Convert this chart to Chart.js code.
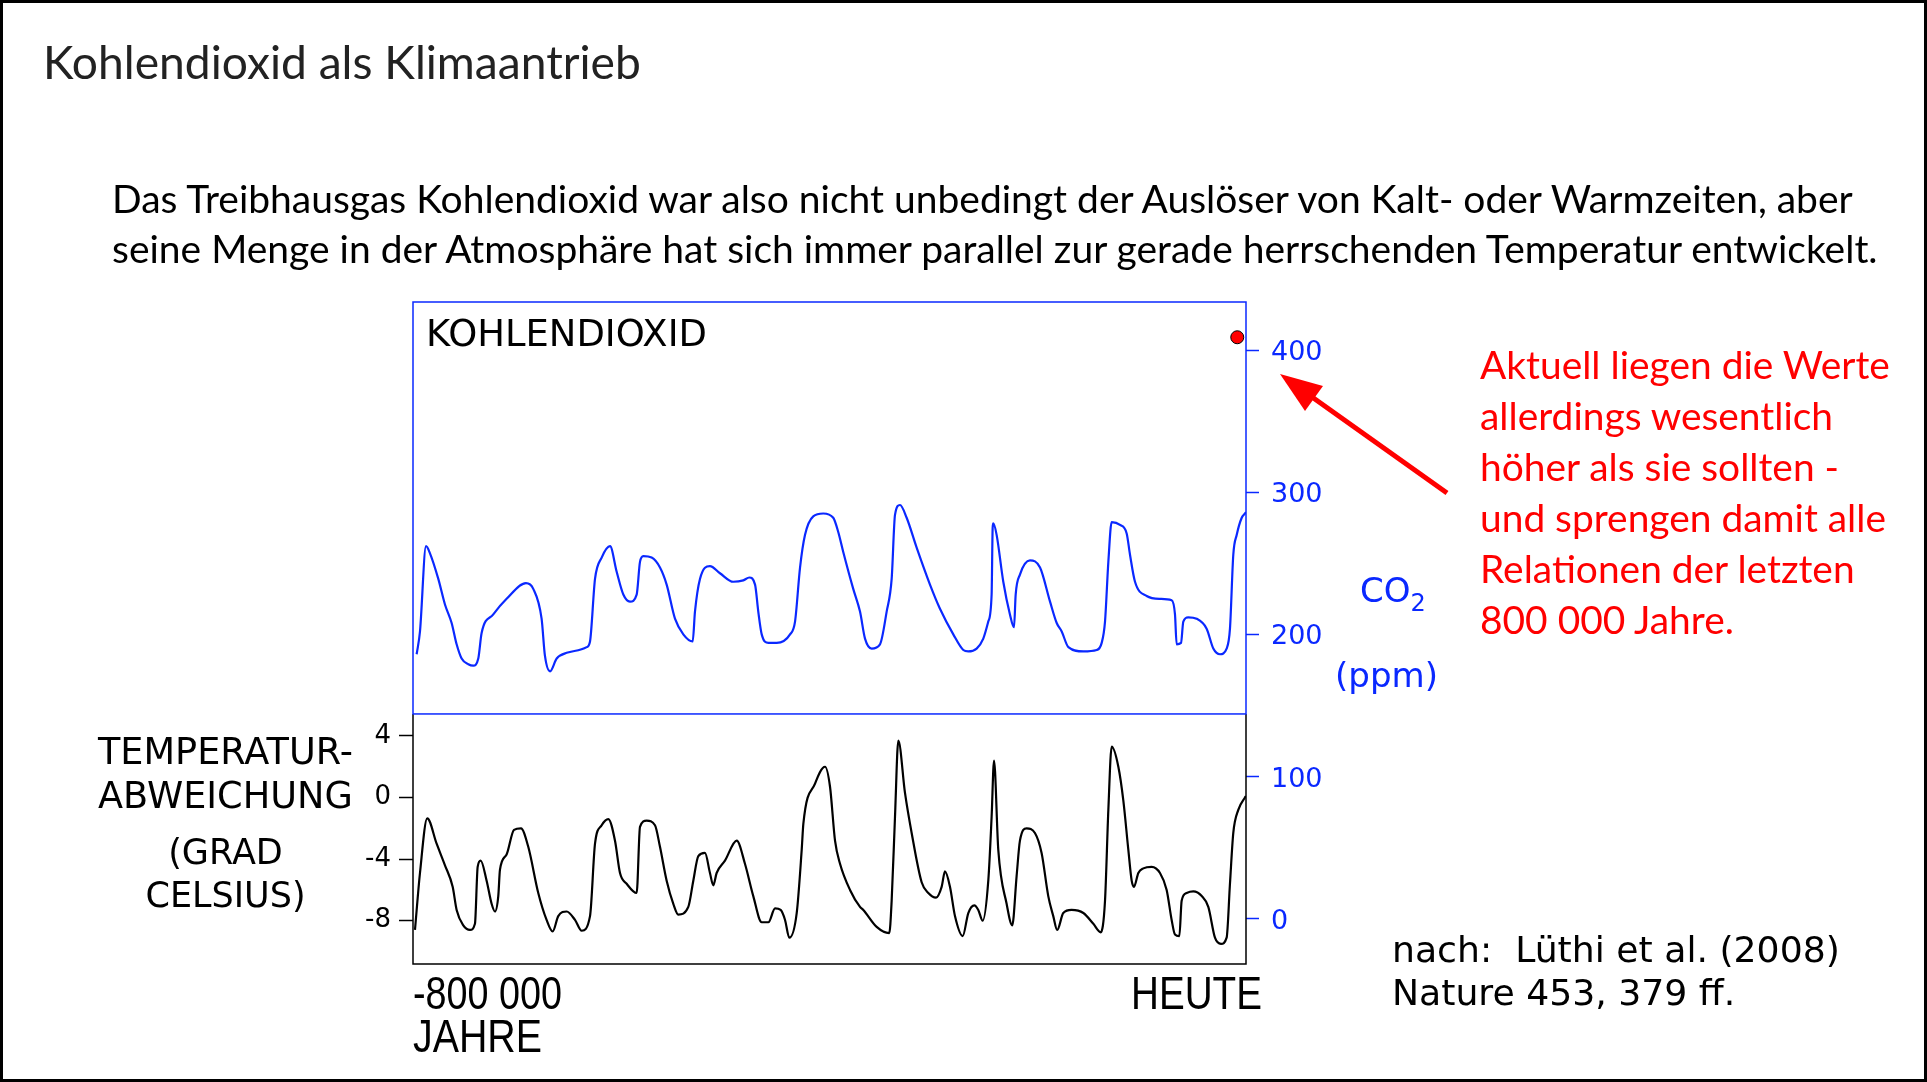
<!DOCTYPE html>
<html lang="de">
<head>
<meta charset="utf-8">
<title>Kohlendioxid als Klimaantrieb</title>
<script src="https://cdn.jsdelivr.net/npm/chart.js@4.4.1/dist/chart.umd.min.js"></script>
<style>
  html, body { margin: 0; padding: 0; background: #fff; overflow: hidden; }
  #slide { position: relative; width: 1927px; height: 1082px; background: #fff; overflow: hidden; }
  #chart { position: absolute; left: 0; top: 0; }
  .t { position: absolute; white-space: pre; }
  .calibri { font-family: Lato, "Open Sans", sans-serif; }
  .lucida { font-family: "DejaVu Sans", sans-serif; }
  .narrow { font-family: "Liberation Sans", Arial, sans-serif; transform-origin: 0 50%; }
  #frame { position: absolute; left: 0; top: 0; width: 1927px; height: 1082px; box-sizing: border-box;
           border: 3px solid #000; pointer-events: none; }
</style>
</head>
<body>
<div id="slide">
  <canvas id="chart" width="1927" height="1082"></canvas>

  <div class="t calibri" data-w="598" style="left:43px; top:36px; line-height:50px; font-size:44px; color:#222;">Kohlendioxid als Klimaantrieb</div>

  <div class="t calibri" data-w="1766" style="left:112px; top:173px; line-height:50px; font-size:35px; color:#000;">Das Treibhausgas Kohlendioxid war also nicht unbedingt der Auslöser von Kalt- oder Warmzeiten, aber
seine Menge in der Atmosphäre hat sich immer parallel zur gerade herrschenden Temperatur entwickelt.</div>

  <div class="t calibri" data-w="410" style="left:1480px; top:338.5px; line-height:51px; font-size:35px; color:#ff0000;">Aktuell liegen die Werte
allerdings wesentlich
höher als sie sollten -
und sprengen damit alle
Relationen der letzten
800 000 Jahre.</div>

  <div class="t lucida" data-w="281" style="left:426px; top:314px; line-height:40px; font-size:33px; color:#000;">KOHLENDIOXID</div>

  <div class="t lucida" data-w="255" style="left:98px; top:730px; line-height:44px; font-size:35px; color:#000; text-align:center;">TEMPERATUR-
ABWEICHUNG</div>
  <div class="t lucida" style="left:98px; top:831px; width:255px; line-height:43px; font-size:35px; color:#000; text-align:center;">(GRAD
CELSIUS)</div>

  <div class="t lucida" style="left:1360px; top:570px; line-height:40px; font-size:34px; color:#0a28ff;">CO<span style="font-size:24px; position:relative; top:9px;">2</span></div>
  <div class="t lucida" data-w="103" style="left:1335px; top:655px; line-height:40px; font-size:34px; color:#0a28ff;">(ppm)</div>

  <div class="t narrow" data-sx="149" style="left:413px; top:971px; line-height:44px; font-size:46px; color:#000;">-800 000</div>
  <div class="t narrow" data-sx="129" style="left:413px; top:1014px; line-height:44px; font-size:46px; color:#000;">JAHRE</div>
  <div class="t narrow" data-sx="131" style="left:1131px; top:971px; line-height:44px; font-size:46px; color:#000;">HEUTE</div>

  <div class="t lucida" data-w="448" style="left:1392px; top:928px; line-height:43px; font-size:36px; color:#000;">nach:  Lüthi et al. (2008)
Nature 453, 379 ff.</div>

  <svg style="position:absolute; left:0; top:0;" width="1927" height="1082">
    <line x1="1447" y1="493" x2="1312" y2="397" stroke="#ff0000" stroke-width="5"/>
    <polygon points="1280,374 1323,386 1305,411" fill="#ff0000"/>
  </svg>

  <div id="frame"></div>
</div>

<script>
// === DATEN ===
// Jahre in Tausend Jahren vor heute
const co2Years = [-796.5, -793.3, -787.5, -783.7, -775.7, -769.3, -762.9, -758.1, -753.3, -746.9, -742.1, -737.3, -734.1, -722.9, -710.1, -691.5, -684.5, -676.5, -673.3, -668.4, -662.0, -652.4, -633.2, -630.0, -625.2, -618.8, -610.8, -604.4, -598.0, -591.6, -585.2, -582.0, -578.8, -570.8, -562.8, -556.4, -548.4, -540.4, -531.4, -529.2, -524.4, -514.8, -505.2, -492.4, -482.8, -477.0, -471.5, -468.4, -465.1, -458.7, -450.7, -437.9, -433.1, -428.3, -423.5, -415.6, -406.0, -396.4, -391.6, -386.8, -377.2, -370.7, -365.9, -359.5, -351.5, -345.1, -340.3, -337.1, -332.3, -325.9, -316.3, -303.5, -293.9, -281.1, -271.5, -266.7, -258.7, -252.3, -247.5, -244.3, -243.3, -242.7, -239.5, -233.1, -226.7, -222.8, -221.2, -217.1, -207.5, -197.8, -188.2, -181.8, -177.0, -170.6, -156.2, -143.4, -138.6, -135.4, -132.2, -129.0, -121.0, -114.6, -111.4, -106.6, -95.4, -82.6, -71.4, -68.2, -66.6, -62.4, -60.2, -55.4, -47.4, -37.8, -31.4, -25.0, -18.6, -15.4, -12.2, -8.9, -4.1, -1.0, 0];
const co2Ppm = [186, 202, 262, 257, 239, 221, 208, 193, 183, 179, 178, 183, 201, 214, 225, 236, 232, 211, 185, 174, 183, 187, 191, 195, 239, 254, 262, 244, 228, 223, 228, 251, 255, 254, 247, 235, 211, 200, 195, 216, 239, 248, 243, 237, 238, 240, 235, 216, 200, 194, 194, 200, 209, 247, 270, 283, 285, 282, 272, 258, 232, 216, 197, 190, 193, 216, 239, 284, 291, 282, 261, 235, 218, 200, 189, 188, 190, 197, 209, 228, 275, 278, 270, 237, 214, 205, 228, 242, 252, 247, 223, 208, 202, 191, 188, 189, 194, 209, 251, 279, 277, 271, 256, 237, 227, 225, 224, 214, 193, 194, 209, 212, 211, 204, 190, 186, 190, 204, 256, 270, 282, 285, 286];

const tempYears = [-798.1, -793.3, -786.3, -777.3, -769.3, -761.9, -758.1, -751.7, -745.3, -740.5, -737.9, -735.0, -729.3, -724.5, -721.3, -718.1, -716.5, -710.1, -703.0, -696.3, -689.3, -679.7, -671.7, -665.9, -660.5, -652.4, -644.4, -638.0, -630.0, -625.2, -618.8, -612.4, -606.0, -601.2, -594.8, -585.2, -582.0, -575.6, -567.6, -562.8, -556.4, -550.0, -545.2, -535.6, -530.8, -526.0, -519.6, -514.8, -511.6, -508.4, -500.4, -489.1, -481.2, -473.2, -465.1, -458.7, -452.3, -446.9, -442.7, -438.6, -431.5, -426.7, -425.1, -413.9, -404.3, -399.5, -394.7, -389.9, -380.3, -370.7, -367.5, -354.7, -342.6, -340.3, -337.1, -333.9, -327.5, -321.1, -311.5, -305.1, -297.7, -292.3, -289.1, -284.3, -279.5, -272.1, -266.7, -260.9, -257.1, -252.9, -247.5, -244.3, -242.0, -237.9, -229.9, -224.5, -220.3, -217.1, -210.7, -202.7, -196.3, -189.9, -185.1, -181.3, -175.5, -167.5, -156.2, -146.6, -139.5, -135.4, -132.2, -129.0, -122.6, -117.8, -113.0, -109.8, -107.6, -103.4, -98.6, -90.6, -82.6, -76.2, -71.4, -68.2, -64.0, -61.8, -57.0, -50.6, -42.5, -36.2, -29.8, -24.0, -18.6, -15.4, -12.2, -7.4, -1.0, 0];
const tempDeg = [-8.6, -4.9, -1.35, -3.0, -4.4, -5.8, -7.3, -8.3, -8.6, -8.2, -4.5, -4.1, -5.4, -6.9, -7.4, -6.4, -4.7, -3.7, -2.1, -2.0, -3.2, -6.2, -7.95, -8.7, -7.7, -7.4, -7.95, -8.65, -7.7, -3.0, -1.8, -1.4, -2.8, -4.9, -5.6, -6.2, -1.9, -1.5, -1.8, -3.2, -5.4, -6.9, -7.6, -7.1, -5.4, -3.8, -3.6, -4.9, -5.7, -4.9, -4.1, -2.8, -4.3, -6.4, -8.1, -8.1, -7.2, -7.3, -7.95, -9.1, -7.5, -3.4, -1.7, 0.9, 2.0, 0.7, -2.8, -4.3, -6.0, -7.1, -7.3, -8.4, -8.8, -6.7, -1.25, 3.7, 0.3, -2.3, -5.5, -6.2, -6.5, -5.8, -4.8, -5.8, -7.7, -9.0, -7.5, -7.0, -7.3, -8.0, -5.4, -1.25, 2.4, -3.4, -6.9, -8.3, -5.1, -2.8, -2.0, -2.3, -3.6, -6.4, -7.7, -8.6, -7.5, -7.3, -7.5, -8.2, -8.75, -6.7, -0.8, 3.3, 2.0, -0.2, -3.4, -5.4, -5.8, -4.9, -4.6, -4.5, -4.9, -6.0, -7.95, -8.9, -9.0, -6.7, -6.2, -6.1, -6.4, -7.1, -9.1, -9.5, -9.1, -5.6, -2.3, -0.8, 0.0, 0.1];

// heutiger Messwert (roter Punkt)
const nowYears = [-8.4];
const nowPpm = [409];

// Achsen
const co2Ticks = [0, 100, 200, 300, 400];
const tempTicks = [4, 0, -4, -8];

const BLAU = "#0a28ff";
const panelSplit = 144; // ppm-Höhe der Trennlinie zwischen den Feldern

// === TEXTBREITEN ANPASSEN ===
document.querySelectorAll("[data-w]").forEach((el) => {
  const w = el.getBoundingClientRect().width;
  const size = parseFloat(getComputedStyle(el).fontSize);
  el.style.fontSize = (size * el.dataset.w / w).toFixed(2) + "px";
});
// schmale Beschriftungen: Höhe bleibt, Breite wird gestaucht
document.querySelectorAll("[data-sx]").forEach((el) => {
  const w = el.getBoundingClientRect().width;
  el.style.transform = "scaleX(" + (el.dataset.sx / w).toFixed(3) + ")";
});

// === RAHMEN ===
const rahmenPlugin = {
  id: "rahmen",
  afterDatasetsDraw(chart) {
    const { ctx, chartArea: a, scales } = chart;
    const ySplit = scales.co2.getPixelForValue(panelSplit);
    ctx.save();
    ctx.lineWidth = 1.5;
    ctx.strokeStyle = "#000";
    ctx.beginPath();
    ctx.moveTo(a.left, ySplit);
    ctx.lineTo(a.left, a.bottom);
    ctx.lineTo(a.right, a.bottom);
    ctx.lineTo(a.right, ySplit);
    ctx.stroke();
    ctx.strokeStyle = BLAU;
    ctx.strokeRect(a.left, a.top, a.right - a.left, ySplit - a.top);
    ctx.restore();
  }
};

const punkte = (xs, ys) => xs.map((x, i) => ({ x, y: ys[i] }));

new Chart(document.getElementById("chart"), {
  type: "line",
  data: {
    datasets: [
      {
        label: "CO2",
        data: punkte(co2Years, co2Ppm),
        yAxisID: "co2",
        borderColor: BLAU,
        borderWidth: 2.2,
        pointRadius: 0,
        cubicInterpolationMode: "monotone"
      },
      {
        label: "Temperatur",
        data: punkte(tempYears, tempDeg),
        yAxisID: "temp",
        borderColor: "#000",
        borderWidth: 2.2,
        pointRadius: 0,
        cubicInterpolationMode: "monotone"
      },
      {
        label: "Heute",
        data: punkte(nowYears, nowPpm),
        yAxisID: "co2",
        showLine: false,
        pointRadius: 6.5,
        pointBackgroundColor: "#ff0000",
        pointBorderColor: "#000",
        pointBorderWidth: 1
      }
    ]
  },
  options: {
    responsive: false,
    animation: false,
    devicePixelRatio: 1,
    layout: { padding: { top: 302, bottom: 118, left: 0, right: 0 } },
    plugins: { legend: { display: false }, tooltip: { enabled: false } },
    scales: {
      x: { type: "linear", min: -800, max: 0, display: false },
      temp: {
        position: "left",
        min: -10.81,
        max: 32.18,
        afterBuildTicks: (s) => { s.ticks = tempTicks.map((v) => ({ value: v })); },
        afterFit: (s) => { s.width = 413; },
        border: { display: false },
        grid: { drawOnChartArea: false, tickLength: 14, tickColor: "#000", tickWidth: 1.5 },
        ticks: { color: "#000", padding: 8, font: { family: "DejaVu Sans", size: 26 } }
      },
      co2: {
        position: "right",
        min: -31.9,
        max: 433.8,
        afterBuildTicks: (s) => { s.ticks = co2Ticks.map((v) => ({ value: v })); },
        afterFit: (s) => { s.width = 1927 - 1246; },
        border: { display: false },
        grid: { drawOnChartArea: false, tickLength: 13, tickColor: BLAU, tickWidth: 1.5 },
        ticks: { color: BLAU, padding: 12, labelOffset: 3, font: { family: "DejaVu Sans", size: 27 } }
      }
    }
  },
  plugins: [rahmenPlugin]
});
</script>
</body>
</html>
